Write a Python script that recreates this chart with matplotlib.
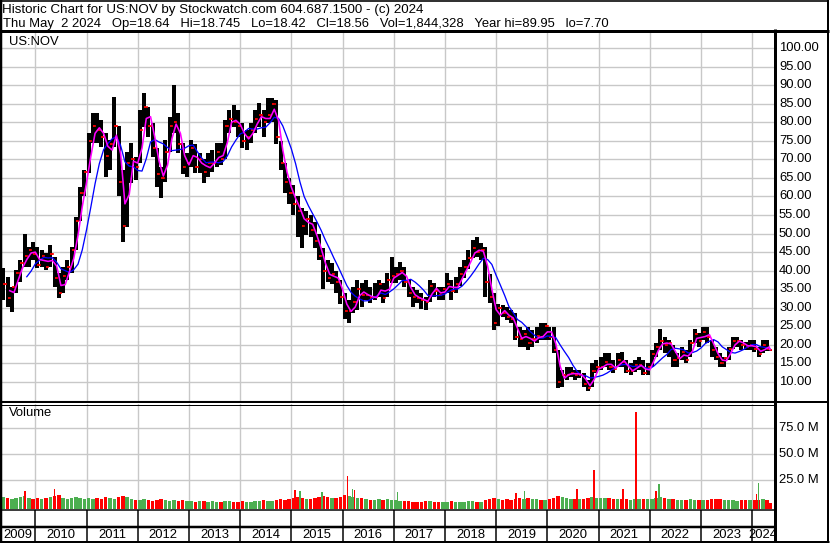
import matplotlib
matplotlib.use('Agg')
import matplotlib.pyplot as plt
import numpy as np
import pandas as pd

plt.rcParams['font.family'] = ['Liberation Sans', 'DejaVu Sans']

W, H = 830, 543

# ---------------- data (monthly, May 2009 .. May 2024) ----------------
first_month = 2009 + 4 / 12  # May 2009

highs = [40.6, 38.4, 35.7, 40.2, 43.0, 50.0, 46.5, 47.8,
         46.5, 45.6, 44.7, 46.9, 43.8, 39.3, 41.0, 42.9, 46.5, 54.5, 62.6, 67.1,
         77.0, 82.4, 82.4, 80.6, 77.0, 75.2, 86.9, 79.0, 67.1, 72.0, 74.3, 70.7,
         83.3, 87.8, 84.0, 79.7, 73.0, 68.0, 75.2, 81.5, 90.0, 82.4, 74.3, 71.6,
         75.2, 74.0, 71.6, 70.0, 71.6, 72.5, 74.3, 74.3, 80.6, 83.3, 84.6, 83.3,
         79.7, 77.9, 79.7, 83.3, 85.1, 83.3, 86.4, 86.4, 86.0, 75.0, 69.0, 65.0,
         63.0, 60.0, 57.0, 56.0, 55.0, 53.0, 50.0, 46.0, 43.0, 42.0, 40.0, 37.5,
         34.0, 32.0, 35.7, 37.5, 36.6, 37.5, 35.7, 36.6, 37.5, 36.6, 39.3, 43.8,
         41.0, 42.4, 41.0, 37.5, 35.7, 34.8, 33.9, 33.0, 37.5, 36.6, 35.7, 35.7,
         39.3, 37.5, 38.4, 41.0, 43.0, 45.6, 48.3, 49.1, 47.4, 46.5, 39.0, 34.0,
         31.0, 30.7, 30.3, 29.4, 28.5, 24.9, 24.0, 24.9, 24.0, 24.9, 25.8, 25.8,
         24.9, 24.9, 18.6, 13.2, 14.1, 14.1, 13.2, 13.2, 12.3, 10.5, 15.0, 15.9,
         16.8, 17.7, 17.7, 15.9, 17.7, 18.1, 15.9, 15.0, 15.9, 16.8, 15.9, 15.0,
         18.6, 20.4, 24.4, 22.2, 21.3, 20.0, 17.7, 19.5, 18.6, 21.3, 24.4, 23.1,
         24.9, 24.9, 21.3, 19.5, 17.7, 16.8, 19.5, 22.2, 22.2, 21.3, 20.8, 21.3,
         21.3, 19.5, 21.3, 21.3, 18.745]

lows = [32.1, 30.3, 28.9, 33.9, 37.0, 41.0, 41.0, 42.9,
        40.6, 41.0, 40.2, 41.0, 35.7, 32.5, 33.9, 37.5, 39.3, 45.6, 53.5, 60.0,
        66.2, 74.3, 74.3, 73.4, 65.3, 67.1, 73.4, 60.0, 47.8, 51.8, 63.5, 64.4,
        69.0, 78.8, 76.1, 70.7, 62.6, 59.5, 64.0, 72.0, 77.0, 71.6, 66.0, 65.3,
        68.0, 66.2, 66.2, 63.5, 65.3, 66.5, 68.0, 68.5, 70.0, 77.0, 78.8, 76.0,
        73.0, 72.5, 74.3, 77.0, 78.8, 76.1, 79.7, 80.0, 74.0, 67.0, 61.0, 58.0,
        55.0, 49.0, 46.0, 49.5, 49.0, 46.0, 43.0, 35.0, 37.0, 36.5, 34.0, 31.0,
        27.0, 25.8, 28.5, 29.5, 30.3, 32.0, 31.2, 32.0, 33.0, 31.2, 33.0, 36.6,
        36.6, 37.5, 35.7, 33.0, 30.3, 31.2, 29.8, 29.4, 31.5, 33.0, 32.0, 32.0,
        33.9, 32.0, 34.0, 36.0, 38.0, 40.5, 43.5, 43.8, 43.0, 33.0, 31.2, 24.0,
        25.0, 27.5, 26.7, 25.8, 21.3, 19.5, 19.5, 18.6, 19.5, 20.4, 21.3, 21.3,
        21.3, 17.7, 8.3, 8.7, 10.5, 11.4, 10.5, 11.0, 8.7, 7.7, 8.7, 12.3,
        13.2, 14.1, 13.2, 12.3, 14.1, 14.1, 12.3, 11.9, 12.8, 13.2, 11.9, 11.9,
        14.1, 16.8, 18.6, 17.7, 16.8, 14.1, 14.1, 15.9, 15.0, 16.8, 20.4, 19.5,
        21.3, 20.4, 16.8, 15.9, 14.1, 14.1, 15.9, 19.0, 19.5, 18.6, 18.6, 18.6,
        18.1, 16.8, 17.7, 18.3, 18.42]

closes = [36.5, 32.7, 35.5, 39.5, 42.0, 44.0, 45.5, 44.5,
          41.5, 44.0, 41.0, 44.5, 38.0, 34.0, 38.5, 41.0, 45.5, 53.5, 61.0, 66.5,
          75.0, 79.0, 78.0, 76.0, 71.0, 74.0, 79.0, 64.0, 52.0, 69.0, 70.0, 68.0,
          78.0, 84.0, 79.0, 73.0, 66.0, 65.0, 72.0, 79.0, 80.0, 74.0, 68.0, 69.0,
          73.0, 68.0, 70.0, 66.5, 69.0, 69.0, 72.0, 70.0, 79.0, 81.0, 80.0, 79.0,
          75.0, 76.0, 78.0, 81.0, 82.0, 80.0, 82.0, 85.0, 76.0, 69.0, 64.0, 61.0,
          58.0, 56.0, 52.0, 54.0, 51.0, 48.0, 44.0, 40.0, 38.0, 39.0, 37.0, 33.0,
          29.0, 29.0, 31.5, 35.0, 33.5, 33.5, 32.5, 33.0, 36.5, 32.5, 37.5, 38.5,
          39.0, 40.0, 37.0, 34.0, 33.0, 32.5, 32.0, 31.5, 36.0, 34.5, 33.5, 35.0,
          36.5, 34.5, 36.5, 39.0, 41.0, 43.5, 46.0, 45.0, 45.5, 37.0, 33.0, 26.0,
          30.0, 28.5, 27.5, 27.0, 22.0, 21.5, 23.0, 20.5, 21.5, 22.5, 22.0, 25.0,
          22.0, 18.5, 10.0, 12.0, 12.0, 12.5, 12.0, 12.0, 9.5, 8.5, 13.0, 14.0,
          14.0, 15.5, 14.0, 13.5, 16.0, 15.5, 13.0, 13.0, 14.5, 14.5, 12.5, 14.0,
          17.5, 19.5, 21.0, 20.0, 20.5, 16.0, 16.5, 18.0, 16.0, 20.5, 23.0, 21.0,
          23.5, 22.0, 18.5, 16.8, 15.0, 16.5, 19.0, 21.0, 21.0, 20.0, 19.5, 20.0,
          19.0, 17.5, 20.0, 18.9, 18.56]

volumes = [9, 8, 7, 8, 9, 10, 8, 7,
           8, 7, 8, 9, 10, 11, 8, 7, 8, 9, 8, 7,
           8, 7, 8, 7, 9, 8, 7, 9, 10, 9, 7, 6,
           6, 7, 6, 5, 6, 7, 6, 5, 6, 5, 6, 5,
           5, 4, 5, 5, 4, 5, 4, 4, 5, 5, 4, 4,
           5, 4, 4, 5, 5, 6, 5, 5, 6, 7, 6, 7,
           8, 9, 8, 7, 7, 8, 9, 10, 9, 8, 8, 9,
           11, 10, 9, 8, 8, 7, 6, 6, 7, 6, 7, 6,
           6, 5, 5, 5, 4, 4, 4, 5, 5, 4, 4, 4,
           4, 5, 4, 4, 4, 5, 5, 4, 4, 6, 7, 8,
           7, 6, 7, 6, 7, 8, 7, 8, 7, 7, 6, 6,
           7, 8, 10, 9, 8, 7, 7, 7, 7, 8, 9, 8,
           8, 8, 8, 7, 7, 7, 7, 6, 7, 7, 7, 7,
           7, 8, 9, 8, 7, 7, 6, 6, 6, 7, 6, 6,
           6, 6, 7, 7, 7, 6, 6, 6, 5, 6, 6, 6,
           6, 6, 7, 6, 3]

spike_dates = [2009.80, 2010.38, 2015.07, 2015.17, 2015.60, 2016.09, 2016.19,
               2016.24, 2017.08, 2019.39, 2019.56, 2020.58, 2020.91, 2021.48,
               2021.73, 2022.12, 2022.18, 2024.08, 2024.12]
spike_vols = [15, 17, 16, 15, 14, 29, 17, 16, 14, 13, 15, 17, 35, 17, 91, 15, 21, 12, 22]
spike_up = [False, False, False, True, True, False, True, False, True, False,
            True, False, False, False, False, False, True, False, True]

price_ticks = [100, 95, 90, 85, 80, 75, 70, 65, 60, 55, 50, 45, 40, 35, 30, 25, 20, 15, 10]
vol_ticks = [25, 50, 75]
year_labels = list(range(2009, 2025))

header1 = "Historic Chart for US:NOV by Stockwatch.com 604.687.1500 - (c) 2024"
header2 = ("Thu May  2 2024   Op=18.64   Hi=18.745   Lo=18.42   Cl=18.56   "
           "Vol=1,844,328   Year hi=89.95   lo=7.70")
symbol = "US:NOV"

# ---------------- layout ----------------
GRID = '#c8c8c8'
RED = '#ff0000'
GREEN = '#4caf50'
PX = 0.72  # one pixel in points

X0, X1 = 2009.31, 2024.427
PLOT_R = 774
P_TOP, P_BOT = 31, 401
P_Y0, P_Y1 = 4.88, 104.58
V_TOP, V_BOT = 404, 509
V_Y0, V_Y1 = -2.6, 98.4

fig = plt.figure(figsize=(W / 100, H / 100), dpi=100)
fig.patch.set_facecolor('white')


def rect(l, t, r, b):
    return [l / W, 1 - b / H, (r - l) / W, (b - t) / H]


n = len(closes)
m = np.arange(n)
t_mid = first_month + (m + 0.5) / 12
t_mid[-1] = first_month + (n - 1 + 0.15) / 12
t_end = first_month + (m + 1) / 12
t_end[-1] = t_mid[-1]

# price panel
axP = fig.add_axes(rect(0, P_TOP, PLOT_R, P_BOT))
axP.set_xlim(X0, X1)
axP.set_ylim(P_Y0, P_Y1)
axP.set_yticks(np.arange(5, 105, 5))
axP.set_xticks(range(2010, 2025))
axP.grid(True, color=GRID, lw=1.4 * PX)
axP.tick_params(length=0, labelbottom=False, labelleft=False)
for s in axP.spines.values():
    s.set_visible(False)
axP.set_axisbelow(True)

opens = [closes[0]] + closes[:-1]
axP.vlines(t_mid, lows, highs, color='black', lw=4.0 * PX, zorder=3)
axP.hlines(closes, t_mid, t_mid + 0.55 / 12, color=RED, lw=1.8 * PX, zorder=4)
axP.hlines(opens, t_mid - 0.5 / 12, t_mid - 0.2 / 12, color=RED, lw=1.5 * PX, zorder=4)
cs = pd.Series(closes)
ma_fast = cs.rolling(2).mean()
ma_slow = cs.rolling(6).mean()
axP.plot(t_end, ma_slow, color='#0000ff', lw=1.3 * PX, zorder=5)
axP.plot(t_end, ma_fast, color='#ff00ff', lw=1.6 * PX, zorder=6)

# volume panel
axV = fig.add_axes(rect(0, V_TOP, PLOT_R, V_BOT))
axV.set_xlim(X0, X1)
axV.set_ylim(V_Y0, V_Y1)
axV.set_yticks(vol_ticks)
axV.set_xticks(range(2010, 2025))
axV.grid(True, color=GRID, lw=1.4 * PX)
axV.tick_params(length=0, labelbottom=False, labelleft=False)
for s in axV.spines.values():
    s.set_visible(False)
axV.set_axisbelow(True)

vcol = [GREEN if c >= p else RED for c, p in zip(closes, opens)]
axV.bar(t_mid, np.array(volumes) - V_Y0, bottom=V_Y0, width=0.8 / 12,
        color=vcol, zorder=3, linewidth=0)
axV.bar(spike_dates, np.array(spike_vols) - V_Y0, bottom=V_Y0, width=1.3 / 52,
        color=[GREEN if u else RED for u in spike_up], zorder=4, linewidth=0)

# overlay for borders and text (pixel coordinates)
ax0 = fig.add_axes([0, 0, 1, 1], zorder=10)
ax0.set_xlim(0, W)
ax0.set_ylim(H, 0)
ax0.axis('off')
ax0.patch.set_alpha(0)


def yr_px(y):
    return (y - X0) / (X1 - X0) * PLOT_R


def hline(y, x0, x1, w):
    ax0.plot([x0, x1], [y, y], color='black', lw=w * PX, solid_capstyle='butt')


def vline(x, y0, y1, w):
    ax0.plot([x, x], [y0, y1], color='black', lw=w * PX, solid_capstyle='butt')


hline(0.8, 0, 829, 1.6)
hline(30.5, 0, 829, 3)
hline(401.5, 0, 829, 2)
hline(404.5, 0, PLOT_R, 1)
hline(509.5, 0, PLOT_R, 1.5)
hline(526.5, 0, PLOT_R, 2.5)
hline(541.5, 0, 829, 3)
vline(1, 0, 543, 2.5)
vline(775, 29, 543, 3)
vline(828, 0, 543, 2)
for yv in range(2010, 2025):
    vline(yr_px(yv), 509.5, 541, 1.5)

FS = 9.4
ax0.text(2, 9.5, header1, fontsize=9.6, va='center', ha='left')
ax0.text(3, 23.5, header2, fontsize=FS, va='center', ha='left')
ax0.text(9, 42, symbol, fontsize=FS, va='center', ha='left')
ax0.text(9, 413, "Volume", fontsize=FS, va='center', ha='left')

for p in price_ticks:
    y = P_TOP + (P_Y1 - p) / (P_Y1 - P_Y0) * (P_BOT - P_TOP)
    ax0.text(779, y, f"{p:.2f}", fontsize=FS, va='center', ha='left')
for v in vol_ticks:
    y = V_TOP + (V_Y1 - v) / (V_Y1 - V_Y0) * (V_BOT - V_TOP)
    ax0.text(779, y, f"{v:.1f} M", fontsize=FS, va='center', ha='left')

for yv in year_labels:
    a = yr_px(max(yv, X0))
    b = yr_px(min(yv + 1, X1))
    ax0.text((a + b) / 2, 534.5, str(yv), fontsize=FS, va='center', ha='center')

fig.savefig('out.png', dpi=100, facecolor='white')
